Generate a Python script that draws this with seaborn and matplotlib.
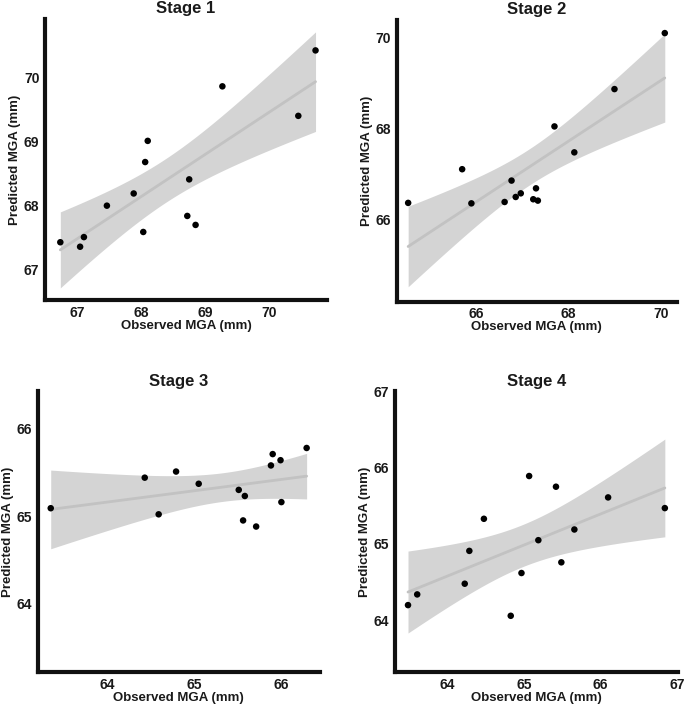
import numpy as np
import pandas as pd
import matplotlib
matplotlib.use("Agg")
import matplotlib.pyplot as plt
import seaborn as sns

# values (observed vs predicted MGA, mm)
stage1_obs = [66.73, 67.04, 67.10, 67.46, 67.88, 68.03, 68.06, 68.10, 68.72, 68.75, 68.85, 69.27, 70.46, 70.73]
stage1_pred = [67.43, 67.36, 67.51, 68.00, 68.19, 67.59, 68.68, 69.01, 67.84, 68.41, 67.70, 69.86, 69.40, 70.42]

stage2_obs = [64.53, 65.70, 65.90, 66.62, 66.77, 66.86, 66.97, 67.24, 67.30, 67.34, 67.70, 68.13, 69.00, 70.09]
stage2_pred = [66.37, 67.11, 66.36, 66.39, 66.86, 66.50, 66.58, 66.45, 66.69, 66.42, 68.05, 67.48, 68.87, 70.10]

stage3_obs = [63.35, 64.43, 64.59, 64.79, 65.05, 65.51, 65.58, 65.56, 65.71, 65.88, 65.90, 65.99, 66.00, 66.29]
stage3_pred = [65.09, 65.44, 65.02, 65.51, 65.37, 65.30, 65.23, 64.95, 64.88, 65.58, 65.71, 65.64, 65.16, 65.78]

stage4_obs = [63.49, 63.61, 64.23, 64.29, 64.48, 64.83, 64.97, 65.07, 65.19, 65.42, 65.49, 65.66, 66.10, 66.84]
stage4_pred = [64.20, 64.34, 64.48, 64.91, 65.33, 64.06, 64.62, 65.89, 65.05, 65.75, 64.76, 65.19, 65.61, 65.47]

titles = ["Stage 1", "Stage 2", "Stage 3", "Stage 4"]

# axes placement, limits and ticks per panel
panels = [
    dict(obs=stage1_obs, pred=stage1_pred, rect=[0.0657, 0.5763, 0.4117, 0.3969],
         xlim=(66.49, 70.91), ylim=(66.53, 70.91), xt=[67, 68, 69, 70], yt=[67, 68, 69, 70]),
    dict(obs=stage2_obs, pred=stage2_pred, rect=[0.579, 0.5739, 0.409, 0.398],
         xlim=(64.28, 70.35), ylim=(64.20, 70.39), xt=[66, 68, 70], yt=[66, 68, 70]),
    dict(obs=stage3_obs, pred=stage3_pred, rect=[0.055, 0.0504, 0.4117, 0.397],
         xlim=(63.20, 66.44), ylim=(63.21, 66.43), xt=[64, 65, 66], yt=[64, 65, 66]),
    dict(obs=stage4_obs, pred=stage4_pred, rect=[0.5766, 0.0504, 0.413, 0.397],
         xlim=(63.32, 67.01), ylim=(63.32, 67.0), xt=[64, 65, 66, 67], yt=[64, 65, 66, 67]),
]

sns.set_style("white")
plt.rcParams['font.family'] = ['Liberation Sans', 'DejaVu Sans']


def conf_band(x, y, grid):
    # analytic 95% band for the fitted mean, like geom_smooth(method="lm")
    x = np.asarray(x); y = np.asarray(y)
    n = len(x)
    b1, b0 = np.polyfit(x, y, 1)
    resid = y - (b0 + b1 * x)
    s = np.sqrt(np.sum(resid ** 2) / (n - 2))
    sxx = np.sum((x - x.mean()) ** 2)
    se = s * np.sqrt(1.0 / n + (grid - x.mean()) ** 2 / sxx)
    t = 2.1788  # t(0.975, df=12)
    fit = b0 + b1 * grid
    return fit - t * se, fit + t * se


fig = plt.figure(figsize=(6.85, 7.08), dpi=100)

for title, p in zip(titles, panels):
    ax = fig.add_axes(p["rect"])
    df = pd.DataFrame({"obs": p["obs"], "pred": p["pred"]})
    grid = np.linspace(df.obs.min(), df.obs.max(), 100)
    lo, hi = conf_band(df.obs, df.pred, grid)
    ax.fill_between(grid, lo, hi, color="#d4d4d4", lw=0, zorder=1)
    sns.regplot(data=df, x="obs", y="pred", ax=ax, ci=None, scatter=False,
                line_kws=dict(color="#c2c2c2", lw=2, zorder=2))
    sns.scatterplot(data=df, x="obs", y="pred", ax=ax, color="black", s=22,
                    edgecolor="none", zorder=3)

    ax.set_xlim(*p["xlim"])
    ax.set_ylim(*p["ylim"])
    ax.set_xticks(p["xt"])
    ax.set_yticks(p["yt"])
    ax.set_xticklabels([str(v) for v in p["xt"]], fontweight="bold", fontsize=10)
    ax.set_yticklabels([str(v) for v in p["yt"]], fontweight="bold", fontsize=10)
    ax.tick_params(length=2.5, width=1.5, color="#333333", pad=1.5, labelcolor="#1a1a1a")

    for side in ["top", "right"]:
        ax.spines[side].set_visible(False)
    for side in ["left", "bottom"]:
        ax.spines[side].set_linewidth(3)
        ax.spines[side].set_color("#111111")
        ax.spines[side].set_capstyle("projecting")

    ax.set_xlabel("Observed MGA (mm)", fontweight="bold", fontsize=9.5, labelpad=0, color="#1a1a1a")
    ax.set_ylabel("Predicted MGA (mm)", fontweight="bold", fontsize=9.5, labelpad=2, color="#1a1a1a")
    ax.set_title(title, fontweight="bold", fontsize=12, pad=4, color="#1a1a1a")

fig.savefig("out.png", dpi=100)
